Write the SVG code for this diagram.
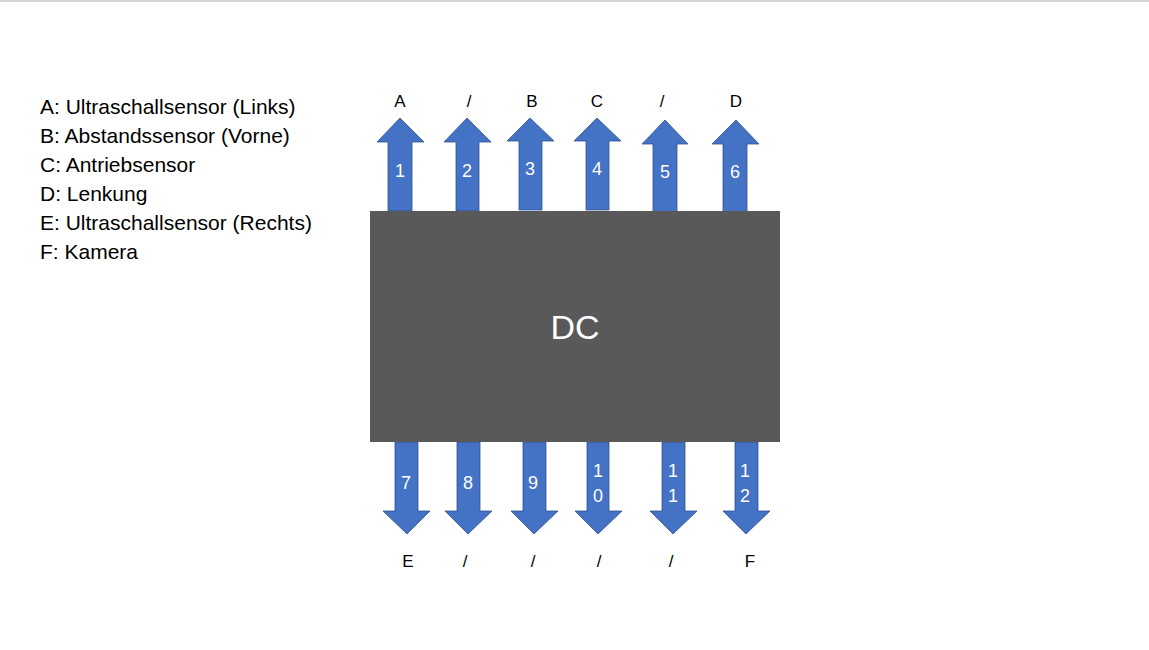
<svg xmlns="http://www.w3.org/2000/svg" width="1149" height="650" viewBox="0 0 1149 650">
<style>
.arr{fill:#4472C4;stroke:#2F528F;stroke-width:0.8}
.num{font-family:"Liberation Sans",Arial,sans-serif;font-size:18px;fill:#FFFFFF;text-anchor:middle}
.lbl{font-family:"Liberation Sans",Arial,sans-serif;font-size:17px;fill:#000000;text-anchor:middle}
.leg{font-family:"Liberation Sans",Arial,sans-serif;font-size:21px;fill:#000000}
</style>
<rect x="0" y="0" width="1149" height="650" fill="#FFFFFF"/>
<line x1="0" y1="1" x2="1149" y2="1" stroke="#C8C8C8" stroke-width="1.5"/>
<g id="legend">
<text class="leg" x="40" y="114">A: Ultraschallsensor (Links)</text>
<text class="leg" x="40" y="143">B: Abstandssensor (Vorne)</text>
<text class="leg" x="40" y="172">C: Antriebsensor</text>
<text class="leg" x="40" y="201">D: Lenkung</text>
<text class="leg" x="40" y="230">E: Ultraschallsensor (Rechts)</text>
<text class="leg" x="40" y="259">F: Kamera</text>
</g>
<g id="connectors">
<g id="arrow1"><polygon class="arr" points="388,211 388,142 377,142 400,118 424,142 412,142 412,211"/><text class="num" x="400" y="177">1</text><text class="lbl" x="400" y="107">A</text></g>
<g id="arrow2"><polygon class="arr" points="456,211 456,142 444,142 467,118 491,142 479,142 479,211"/><text class="num" x="467" y="177">2</text><text class="lbl" x="469" y="107">/</text></g>
<g id="arrow3"><polygon class="arr" points="519,210 519,141 507,141 530,118 554,141 542,141 542,210"/><text class="num" x="530" y="175">3</text><text class="lbl" x="532" y="107">B</text></g>
<g id="arrow4"><polygon class="arr" points="586,210 586,141 574,141 597,118 621,141 609,141 609,210"/><text class="num" x="597" y="175">4</text><text class="lbl" x="597" y="107">C</text></g>
<g id="arrow5"><polygon class="arr" points="653,212 653,144 642,144 665,120 688,144 677,144 677,212"/><text class="num" x="665" y="178">5</text><text class="lbl" x="662" y="107">/</text></g>
<g id="arrow6"><polygon class="arr" points="723,212 723,144 712,144 736,120 759,144 747,144 747,212"/><text class="num" x="735" y="178">6</text><text class="lbl" x="736" y="107">D</text></g>
<g id="arrow7"><polygon class="arr" points="395,442 395,511 383,511 407,534 430,511 418,511 418,442"/><text class="num" x="406" y="489">7</text><text class="lbl" x="408" y="567">E</text></g>
<g id="arrow8"><polygon class="arr" points="457,442 457,511 445,511 468,534 492,511 480,511 480,442"/><text class="num" x="468" y="489">8</text><text class="lbl" x="465" y="567">/</text></g>
<g id="arrow9"><polygon class="arr" points="523,442 523,511 511,511 534,534 558,511 546,511 546,442"/><text class="num" x="533" y="489">9</text><text class="lbl" x="533" y="567">/</text></g>
<g id="arrow10"><polygon class="arr" points="587,442 587,511 575,511 598,534 622,511 609,511 609,442"/><text class="num" x="598" y="477">1</text><text class="num" x="598" y="502">0</text><text class="lbl" x="599" y="567">/</text></g>
<g id="arrow11"><polygon class="arr" points="662,442 662,511 650,511 673,534 697,511 685,511 685,442"/><text class="num" x="673" y="477">1</text><text class="num" x="673" y="502">1</text><text class="lbl" x="671" y="567">/</text></g>
<g id="arrow12"><polygon class="arr" points="735,442 735,511 723,511 746,534 770,511 758,511 758,442"/><text class="num" x="745" y="477">1</text><text class="num" x="745" y="502">2</text><text class="lbl" x="750" y="567">F</text></g>
</g>
<g id="dc">
<rect x="370" y="211" width="410" height="231" fill="#595959"/>
<text x="575" y="339" font-family="'Liberation Sans',Arial,sans-serif" font-size="34" fill="#FFFFFF" text-anchor="middle">DC</text>
</g>
</svg>
